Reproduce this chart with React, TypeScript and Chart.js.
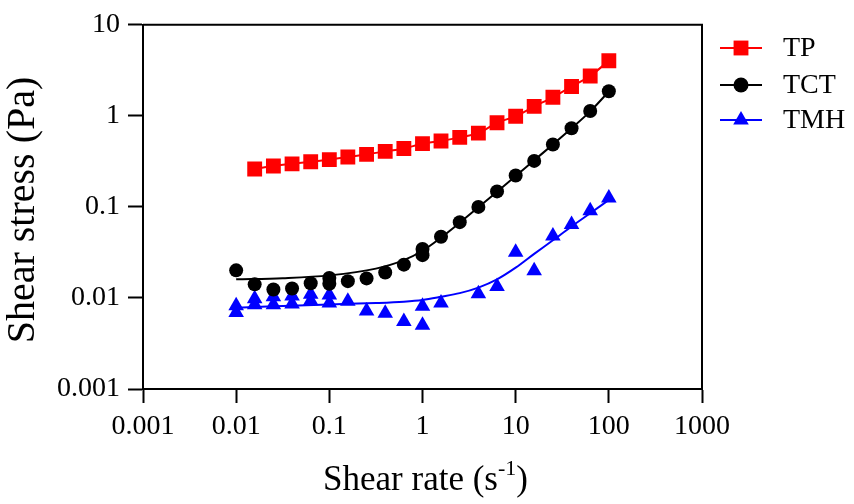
import { useEffect, useRef } from 'react'
import { Chart, registerables, type ChartConfiguration, type Plugin } from 'chart.js'

Chart.register(...registerables)

const FONT = '"Liberation Serif", "Times New Roman", Times, serif'
const RED = '#ff0000'
const BLACK = '#000000'
const BLUE = '#0000ff'

// decade ticks only
const X_TICKS = [0.001, 0.01, 0.1, 1, 10, 100, 1000]
const X_TICK_LABELS = ['0.001', '0.01', '0.1', '1', '10', '100', '1000']
const Y_TICKS = [0.001, 0.01, 0.1, 1, 10]
const Y_TICK_LABELS = ['0.001', '0.01', '0.1', '1', '10']

const SERIES = ['TP', 'TCT', 'TMH']

// measured points (shear rate s^-1, shear stress Pa)
const TP_RATE = [0.0158, 0.0251, 0.0398, 0.0631, 0.1, 0.158, 0.251, 0.398, 0.631, 1, 1.58, 2.51, 3.98, 6.31, 10, 15.8, 25.1, 39.8, 63.1, 100]
const TP_STRESS = [0.261, 0.281, 0.297, 0.313, 0.331, 0.353, 0.378, 0.407, 0.438, 0.495, 0.53, 0.58, 0.645, 0.84, 0.99, 1.27, 1.6, 2.1, 2.74, 4.03]

const TCT_RATE = [0.01, 0.0158, 0.0251, 0.0398, 0.0631, 0.1, 0.1, 0.158, 0.251, 0.398, 0.631, 1, 1, 1.58, 2.51, 3.98, 6.31, 10, 15.8, 25.1, 39.8, 63.1, 100]
const TCT_STRESS = [0.0201, 0.0141, 0.0124, 0.0127, 0.0145, 0.0166, 0.0143, 0.0153, 0.0164, 0.019, 0.0232, 0.0345, 0.0295, 0.047, 0.068, 0.1, 0.148, 0.221, 0.32, 0.484, 0.73, 1.13, 1.86]

const TMH_RATE = [0.01, 0.01, 0.0158, 0.0158, 0.0251, 0.0251, 0.0398, 0.0398, 0.0631, 0.0631, 0.1, 0.1, 0.158, 0.251, 0.398, 0.631, 1, 1, 1.58, 3.98, 6.31, 10, 15.8, 25.1, 39.8, 63.1, 100]
const TMH_STRESS = [0.0082, 0.0069, 0.0098, 0.0084, 0.0103, 0.0084, 0.0105, 0.0086, 0.011, 0.0093, 0.0108, 0.0088, 0.0092, 0.0072, 0.0068, 0.0055, 0.0081, 0.005, 0.0088, 0.0111, 0.0134, 0.0318, 0.0199, 0.048, 0.064, 0.0906, 0.125]

// fitted curves
const TCT_FIT_RATE = [0.01, 0.0316, 0.1, 0.316, 0.631, 1, 1.58, 2.51, 3.98, 6.31, 10, 15.8, 25.1, 39.8, 63.1, 100]
const TCT_FIT_STRESS = [0.016, 0.0165, 0.0177, 0.021, 0.026, 0.033, 0.046, 0.067, 0.099, 0.147, 0.218, 0.325, 0.485, 0.73, 1.12, 1.85]
const TMH_FIT_RATE = [0.01, 0.1, 0.316, 0.631, 1, 1.58, 2.51, 3.98, 6.31, 10, 15.8, 25.1, 39.8, 63.1, 100]
const TMH_FIT_STRESS = [0.0078, 0.0085, 0.0088, 0.0091, 0.0095, 0.0103, 0.0113, 0.013, 0.016, 0.0215, 0.0305, 0.043, 0.061, 0.0851, 0.119]

const pts = (xs: number[], ys: number[]) => xs.map((x, i) => ({ x, y: ys[i] }))

type Marker = 'rect' | 'circle' | 'triangle'

function drawMarker(ctx: CanvasRenderingContext2D, kind: Marker, x: number, y: number, r: number) {
  ctx.beginPath()
  if (kind === 'rect') {
    const h = r * Math.SQRT1_2
    ctx.rect(x - h, y - h, h * 2, h * 2)
  } else if (kind === 'circle') {
    ctx.arc(x, y, r, 0, Math.PI * 2)
  } else {
    const w = r * Math.sin(Math.PI / 3)
    ctx.moveTo(x, y - r)
    ctx.lineTo(x + w, y + r / 2)
    ctx.lineTo(x - w, y + r / 2)
    ctx.closePath()
  }
  ctx.fill()
}

// box frame (top/right), axis titles with superscript, line+marker legend
const decorations: Plugin = {
  id: 'decorations',
  afterDraw(chart) {
    const { ctx, chartArea: a } = chart
    ctx.save()
    ctx.strokeStyle = BLACK
    ctx.lineWidth = 2
    ctx.beginPath()
    ctx.moveTo(a.left, a.top)
    ctx.lineTo(a.right, a.top)
    ctx.lineTo(a.right, a.bottom + 1)
    ctx.stroke()

    ctx.fillStyle = BLACK
    ctx.textBaseline = 'alphabetic'
    ctx.textAlign = 'left'
    const main = 'Shear rate (s'
    ctx.font = `35px ${FONT}`
    const w1 = ctx.measureText(main).width
    const w3 = ctx.measureText(')').width
    ctx.font = `22px ${FONT}`
    const w2 = ctx.measureText('-1').width
    const cx = (a.left + a.right) / 2 + 3
    let x = cx - (w1 + w2 + w3) / 2
    const base = 490
    ctx.font = `35px ${FONT}`
    ctx.fillText(main, x, base)
    x += w1
    ctx.font = `22px ${FONT}`
    ctx.fillText('-1', x, base - 15)
    x += w2
    ctx.font = `35px ${FONT}`
    ctx.fillText(')', x, base)

    ctx.save()
    ctx.translate(23, 210)
    ctx.rotate(-Math.PI / 2)
    ctx.textAlign = 'center'
    ctx.textBaseline = 'middle'
    ctx.font = `40px ${FONT}`
    ctx.fillText('Shear stress (Pa)', 0, 0)
    ctx.restore()

    const colors = [RED, BLACK, BLUE]
    const markers: Marker[] = ['rect', 'circle', 'triangle']
    const radii = [10.5, 7.5, 9]
    const rows = [48, 85, 120]
    ctx.font = `28px ${FONT}`
    ctx.textBaseline = 'middle'
    SERIES.forEach((label, i) => {
      const y = rows[i]
      ctx.strokeStyle = colors[i]
      ctx.fillStyle = colors[i]
      ctx.lineWidth = 2
      ctx.beginPath()
      ctx.moveTo(720, y)
      ctx.lineTo(762, y)
      ctx.stroke()
      drawMarker(ctx, markers[i], 741, y, radii[i])
      ctx.fillStyle = BLACK
      ctx.fillText(label, 783, y + 1)
    })
    ctx.restore()
  },
}

export default function App() {
  const canvasRef = useRef<HTMLCanvasElement>(null)

  useEffect(() => {
    document.body.style.margin = '0'
    const canvas = canvasRef.current
    if (!canvas) return
    Chart.defaults.font.family = FONT
    Chart.defaults.color = BLACK

    const config = {
      type: 'scatter',
      data: {
        datasets: [
          {
            label: SERIES[0],
            data: pts(TP_RATE, TP_STRESS),
            showLine: true,
            borderColor: RED,
            backgroundColor: RED,
            borderWidth: 2,
            pointStyle: 'rect',
            pointRadius: 10.5,
            pointBorderWidth: 0,
            tension: 0.3,
          },
          {
            label: SERIES[1],
            data: pts(TCT_RATE, TCT_STRESS),
            backgroundColor: BLACK,
            borderColor: BLACK,
            pointStyle: 'circle',
            pointRadius: 7,
            pointBorderWidth: 0,
          },
          {
            label: SERIES[2],
            data: pts(TMH_RATE, TMH_STRESS),
            backgroundColor: BLUE,
            borderColor: BLUE,
            pointStyle: 'triangle',
            pointRadius: 9,
            pointBorderWidth: 0,
          },
          {
            label: 'TCT fit',
            data: pts(TCT_FIT_RATE, TCT_FIT_STRESS),
            showLine: true,
            borderColor: BLACK,
            borderWidth: 2,
            pointRadius: 0,
            cubicInterpolationMode: 'monotone',
          },
          {
            label: 'TMH fit',
            data: pts(TMH_FIT_RATE, TMH_FIT_STRESS),
            showLine: true,
            borderColor: BLUE,
            borderWidth: 2,
            pointRadius: 0,
            cubicInterpolationMode: 'monotone',
          },
        ],
      },
      options: {
        responsive: false,
        animation: false,
        layout: { padding: { top: 16, right: 152, left: 0, bottom: 0 } },
        plugins: { legend: { display: false }, tooltip: { enabled: false } },
        scales: {
          x: {
            type: 'logarithmic',
            min: 0.001,
            max: 1000,
            afterBuildTicks: (s: any) => {
              s.ticks = X_TICKS.map((value) => ({ value }))
            },
            afterFit: (s: any) => {
              s.height = 115
            },
            ticks: {
              callback: (_v: unknown, i: number) => X_TICK_LABELS[i],
              font: { size: 28 },
              color: BLACK,
              padding: 7,
              maxRotation: 0,
              autoSkip: false,
            },
            grid: { drawOnChartArea: false, tickLength: 14, tickWidth: 2, tickColor: BLACK },
            border: { color: BLACK, width: 2 },
          },
          y: {
            type: 'logarithmic',
            min: 0.001,
            max: 10,
            afterBuildTicks: (s: any) => {
              s.ticks = Y_TICKS.map((value) => ({ value }))
            },
            afterFit: (s: any) => {
              s.width = 143
            },
            ticks: {
              callback: (_v: unknown, i: number) => Y_TICK_LABELS[i],
              font: { size: 28 },
              color: BLACK,
              padding: 8,
              autoSkip: false,
            },
            grid: { drawOnChartArea: false, tickLength: 15, tickWidth: 2, tickColor: BLACK },
            border: { color: BLACK, width: 2 },
          },
        },
      },
      plugins: [decorations],
    } as unknown as ChartConfiguration

    const chart = new Chart(canvas, config)
    return () => chart.destroy()
  }, [])

  return (
    <div style={{ width: 854, height: 504, background: '#ffffff' }}>
      <canvas ref={canvasRef} width={854} height={504} style={{ display: 'block' }} />
    </div>
  )
}
